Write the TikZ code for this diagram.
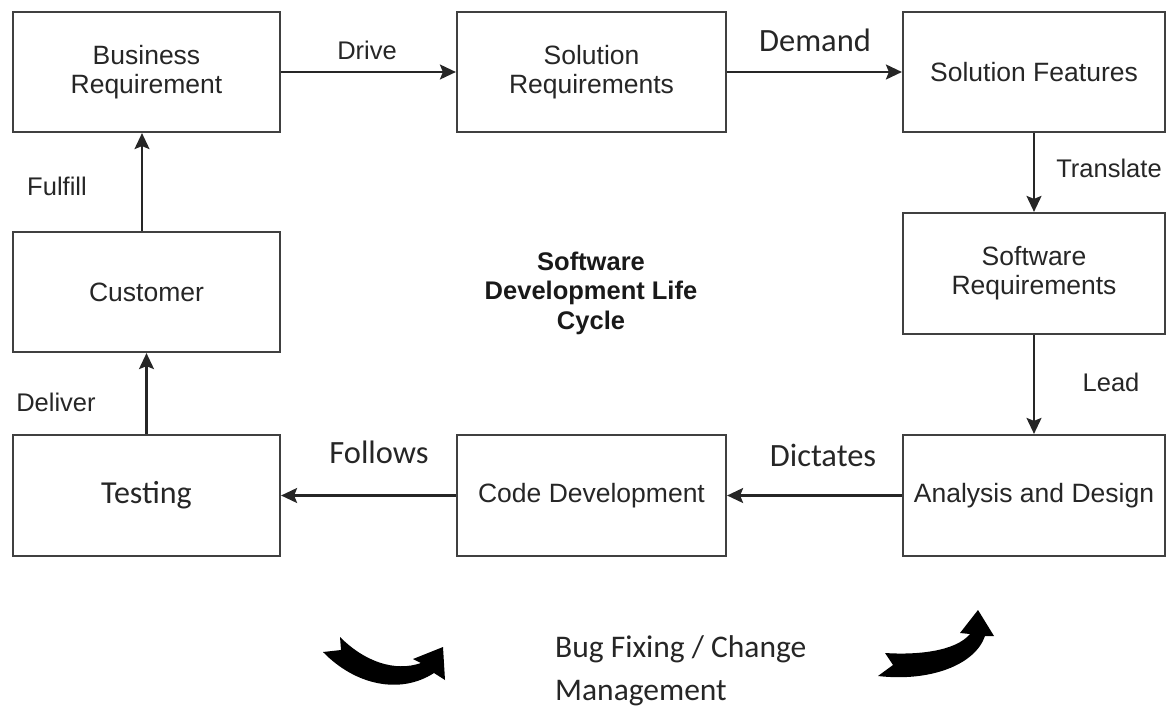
\documentclass[tikz,border=0pt]{standalone}
\usepackage{fontspec}
\setmainfont{Liberation Sans}
\newfontfamily\calib{Carlito}
\usetikzlibrary{arrows.meta}
\begin{document}
\begin{tikzpicture}[x=1pt,y=-1pt,
  box/.style={draw=black!75, line width=2.2pt, minimum height=120pt, align=center,
    inner sep=0pt, text=black!85, font=\fontsize{26.5}{29}\selectfont},
  conn/.style={-{Stealth[length=16pt,width=15pt,inset=3pt]}, line width=2.2pt, draw=black!85},
  lbl/.style={text=black!85, font=\fontsize{25.5}{28}\selectfont, inner sep=0pt},
  clbl/.style={text=black!85, font=\calib\fontsize{32.5}{36}\selectfont, inner sep=0pt},
  curvearrow/.style={fill=black}]
\useasboundingbox (0,0) rectangle (1167,709);
% boxes
\node[box, minimum width=267pt] (br) at (146.5,72) {Business\\Requirement};
\node[box, minimum width=269pt] (sr) at (591.5,72) {Solution\\Requirements};
\node[box, minimum width=262pt] (sf) at (1034,72) {Solution Features};
\node[box, minimum width=262pt, minimum height=121pt] (swr) at (1034,273.5) {Software\\Requirements};
\node[box, minimum width=262pt, minimum height=121pt] (ad) at (1034,495.5) {Analysis and Design};
\node[box, minimum width=269pt, minimum height=121pt] (cd) at (591.5,495.5) {Code Development};
\node[box, minimum width=267pt, minimum height=121pt, font=\calib\fontsize{32}{36}\selectfont] (te) at (146.5,495.5) {Testing};
\node[box, minimum width=267pt] (cu) at (146.5,292) {Customer};
% connectors
\draw[conn] (br) -- (sr);
\draw[conn] (sr) -- (sf);
\draw[conn] (sf) -- (swr);
\draw[conn] (swr) -- (ad);
\draw[conn] (ad) -- (cd);
\draw[conn] (cd) -- (te);
\draw[conn] (te) -- (cu);
\draw[conn] ([xshift=-4.5pt]cu.north) -- ([xshift=-4.5pt]br.south);
% labels
\node[lbl] (ldrive) at (367,50) {Drive};
\node[clbl] (ldemand) at (815,40) {Demand};
\node[lbl] (ltrans) at (1109,168) {Translate};
\node[lbl] (llead) at (1111,382) {Lead};
\node[clbl] (ldict) at (823,455) {Dictates};
\node[clbl] (lfoll) at (379,452) {Follows};
\node[lbl] (ldeliv) at (56,402) {Deliver};
\node[lbl] (lfulf) at (57,186) {Fulfill};
\node[align=center, text=black!90, inner sep=0pt, font=\bfseries\fontsize{25.5}{29.5}\selectfont] (title) at (591,293) {Software\\Development Life\\Cycle};
\node[clbl, anchor=base west, font=\calib\fontsize{31.5}{36}\selectfont] (bug1) at (555,657) {Bug Fixing / Change};
\node[clbl, anchor=base west, font=\calib\fontsize{31.5}{36}\selectfont] (bug2) at (555,700) {Management};
% curved arrows
\fill[curvearrow] (323,652) .. controls (355,685) and (400,695) .. (434,673) -- (445,680) -- (443,647) -- (413,659) -- (421,663)
  .. controls (395,672) and (365,662) .. (340,637) -- (341,650) -- cycle;
\fill[curvearrow] (878,676) .. controls (930,682) and (975,665) .. (985,636) -- (994,636) -- (978,610) -- (960,633) -- (970,634)
  .. controls (955,652) and (915,655) .. (885,653) -- (893,665) -- cycle;
\end{tikzpicture}
\end{document}
